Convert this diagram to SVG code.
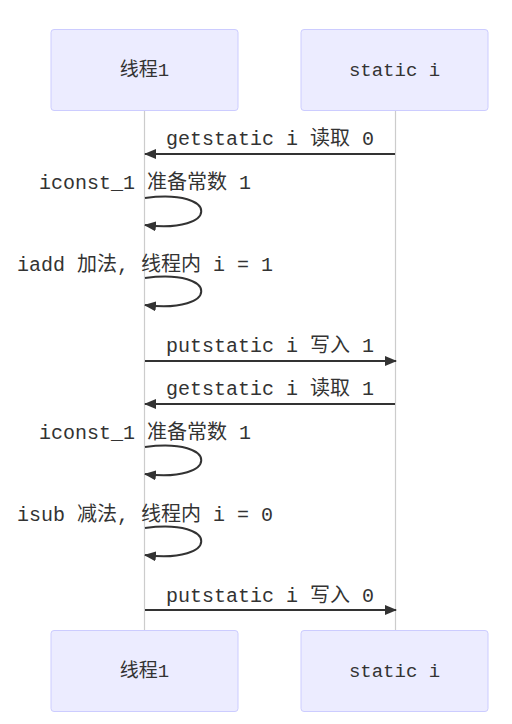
<svg xmlns="http://www.w3.org/2000/svg" width="512" height="724" viewBox="0 0 512 724">
<style>
.actor{fill:#ECECFF;stroke:#CCCCFF;stroke-width:1}
.atext{font-family:"Liberation Mono","Noto Sans CJK SC",monospace;font-size:19px;fill:#333;text-anchor:middle;dominant-baseline:central}
.mtext{font-family:"Liberation Mono","Noto Sans CJK SC",monospace;font-size:20px;fill:#333;text-anchor:middle}
.life{stroke:#cccccc;stroke-width:1.2}
.msg{stroke:#333;stroke-width:2;fill:none;marker-end:url(#arrow)}
</style>
<defs>
<marker id="arrow" viewBox="0 0 12 10" refX="11" refY="5" markerWidth="12" markerHeight="10" markerUnits="userSpaceOnUse" orient="auto">
<path d="M0,0 L12,5 L0,10 z" fill="#333"/>
</marker>
</defs>
<rect width="512" height="724" fill="#ffffff"/>
<g id="lifelines">
<line class="life" x1="144.5" y1="111" x2="144.5" y2="631"/>
<line class="life" x1="395.5" y1="111" x2="395.5" y2="631"/>
</g>
<g id="actor-thread-top"><rect class="actor" x="51" y="29.5" width="187" height="81" rx="3"/><text class="atext" x="144.5" y="71">线程1</text></g>
<g id="actor-static-top"><rect class="actor" x="301" y="29.5" width="187" height="81" rx="3"/><text class="atext" x="394.5" y="71">static i</text></g>
<g id="actor-thread-bottom"><rect class="actor" x="51" y="630.5" width="187" height="81" rx="3"/><text class="atext" x="144.5" y="672">线程1</text></g>
<g id="actor-static-bottom"><rect class="actor" x="301" y="630.5" width="187" height="81" rx="3"/><text class="atext" x="394.5" y="672">static i</text></g>
<g id="connectors">
<line class="msg" x1="395" y1="154" x2="145" y2="154"/>
<path class="msg" d="M145,198 C220,188 220,234 145,225"/>
<path class="msg" d="M145,278 C220,268 220,314 145,305"/>
<line class="msg" x1="145" y1="361" x2="396" y2="361"/>
<line class="msg" x1="395" y1="404" x2="145" y2="404"/>
<path class="msg" d="M145,447 C220,437 220,483 145,474"/>
<path class="msg" d="M145,528 C220,518 220,564 145,555"/>
<line class="msg" x1="145" y1="610" x2="396" y2="610"/>
</g>
<g id="labels">
<text class="mtext" x="270" y="145">getstatic i 读取 0</text>
<text class="mtext" x="145" y="189">iconst_1 准备常数 1</text>
<text class="mtext" x="145" y="271">iadd 加法, 线程内 i = 1</text>
<text class="mtext" x="270" y="352">putstatic i 写入 1</text>
<text class="mtext" x="270" y="395">getstatic i 读取 1</text>
<text class="mtext" x="145" y="439">iconst_1 准备常数 1</text>
<text class="mtext" x="145" y="521">isub 减法, 线程内 i = 0</text>
<text class="mtext" x="270" y="602">putstatic i 写入 0</text>
</g>
</svg>
